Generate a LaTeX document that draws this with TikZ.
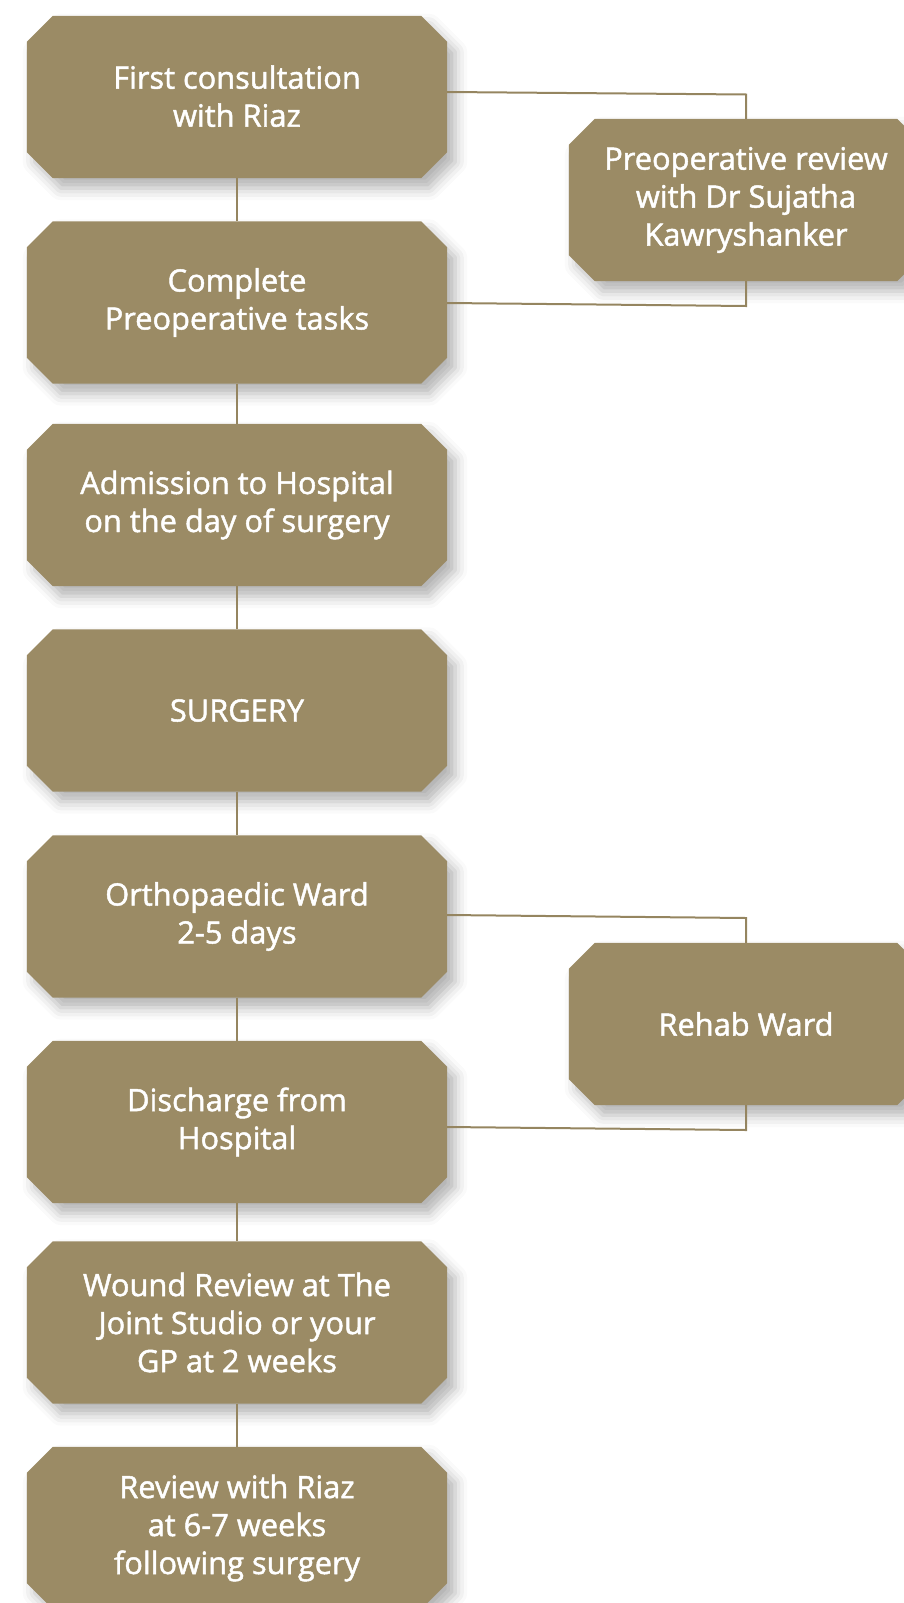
\documentclass[tikz,border=0pt]{standalone}
\usepackage{fontspec}
\setmainfont{Open Sans}
\font\boxfnt="Open Sans:mapping=tex-text;embolden=1.5" at 30.8pt
\newcommand\boxtextfont{\boxfnt\baselineskip 38pt\relax}
\usetikzlibrary{shadows.blur}
\pgfdeclarelayer{bg}
\pgfsetlayers{bg,main}
\definecolor{gold}{HTML}{9B8B65}
\definecolor{goldline}{HTML}{958560}
\newcommand\octof[1]{%
  \path[octfill] ([xshift=26pt]#1.north west) -- ([xshift=-26pt]#1.north east)
    -- ([yshift=-26pt]#1.north east) -- ([yshift=26pt]#1.south east)
    -- ([xshift=-26pt]#1.south east) -- ([xshift=26pt]#1.south west)
    -- ([yshift=26pt]#1.south west) -- ([yshift=-26pt]#1.north west) -- cycle;}
\begin{document}
\begin{tikzpicture}[x=1pt,y=-1pt,
  stepbox/.style={rectangle, inner sep=0pt, minimum width=420pt, minimum height=162pt,
    text=white, font=\boxtextfont, align=center},
  sidebox/.style={stepbox, minimum width=354pt},
  conn/.style={draw=goldline, line width=2pt},
  octfill/.style={fill=gold, blur shadow={shadow xshift=8pt, shadow yshift=-10pt,
    shadow blur radius=12pt, shadow opacity=30}}]
\useasboundingbox (0,0) rectangle (903,1603);
\node[stepbox, text depth=2pt] (b1) at (237,97) {First consultation\\with Riaz};
\node[stepbox] (b2) at (237,302.5) {Complete\\Preoperative tasks};
\node[stepbox] (b3) at (237,505) {Admission to Hospital\\on the day of surgery};
\node[stepbox] (b4) at (237,710.5) {SURGERY};
\node[stepbox] (b5) at (237,916.5) {Orthopaedic Ward\\2-5 days};
\node[stepbox] (b6) at (237,1122) {Discharge from\\Hospital};
\node[stepbox] (b7) at (237,1322.5) {Wound Review at The\\Joint Studio or your\\GP at 2 weeks};
\node[stepbox] (b8) at (237,1528) {Review with Riaz\\at 6-7 weeks\\following surgery};
\node[sidebox] (r1) at (746,200) {Preoperative review\\with Dr Sujatha\\Kawryshanker};
\node[sidebox] (r2) at (746,1024) {Rehab Ward};
\begin{pgfonlayer}{bg}
\octof{b1}\octof{b2}\octof{b3}\octof{b4}\octof{b5}\octof{b6}\octof{b7}\octof{b8}
\octof{r1}\octof{r2}
\end{pgfonlayer}
\coordinate (k1) at (746,94.5);
\coordinate (k2) at (746,306);
\coordinate (k3) at (746,918);
\coordinate (k4) at (746,1130);
\draw[conn] (b1) -- (b2);
\draw[conn] (b2) -- (b3);
\draw[conn] (b3) -- (b4);
\draw[conn] (b4) -- (b5);
\draw[conn] (b5) -- (b6);
\draw[conn] (b6) -- (b7);
\draw[conn] (b7) -- (b8);
\draw[conn] ([yshift=5pt]b1.east) -- (k1) -- (r1.north);
\draw[conn] (r1.south) -- (k2) -- ([yshift=-0.5pt]b2.east);
\draw[conn] ([yshift=1.5pt]b5.east) -- (k3) -- (r2.north);
\draw[conn] (r2.south) -- (k4) -- ([yshift=-5pt]b6.east);
\end{tikzpicture}
\end{document}
